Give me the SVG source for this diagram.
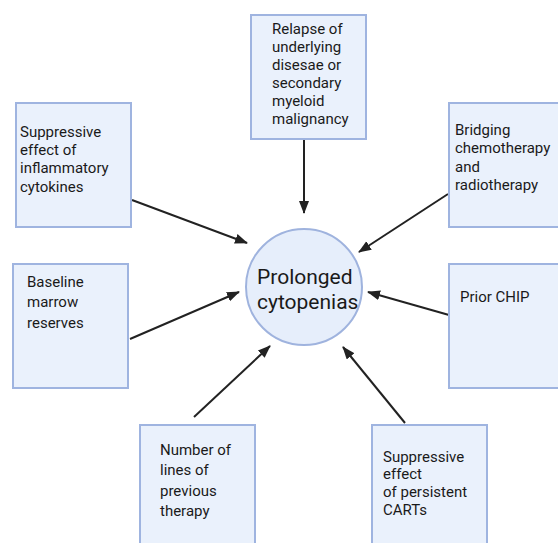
<svg xmlns="http://www.w3.org/2000/svg" width="558" height="543" viewBox="0 0 558 543">
<style>
.box{fill:#eaf1fc;stroke:#9fb4e0;stroke-width:2}
.t{font-family:Roboto,"Liberation Sans",sans-serif;font-size:15px;fill:#1a1a1a}
.c{font-family:Roboto,"Liberation Sans",sans-serif;font-size:21px;fill:#1a1a1a}
.ln{stroke:#222;stroke-width:2;fill:none;marker-end:url(#ah)}
</style>
<defs>
<marker id="ah" markerUnits="userSpaceOnUse" markerWidth="14" markerHeight="12" refX="12" refY="5" orient="auto">
<path d="M0,0 L13,5 L0,10 Z" fill="#222"/>
</marker>
</defs>
<rect width="558" height="543" fill="#fff"/>
<g id="connectors">
<line class="ln" x1="304" y1="140" x2="304" y2="213"/>
<line class="ln" x1="132" y1="200" x2="247" y2="243"/>
<line class="ln" x1="448" y1="194" x2="359" y2="252"/>
<line class="ln" x1="130" y1="339" x2="239" y2="292"/>
<line class="ln" x1="449" y1="315" x2="368" y2="292"/>
<line class="ln" x1="194" y1="417" x2="270" y2="346"/>
<line class="ln" x1="405" y1="423" x2="343" y2="347"/>
</g>
<g id="center">
<circle cx="304" cy="287" r="58" fill="#e6eefb" stroke="#9fb3de" stroke-width="2"/>
<text class="c" x="257" y="284">Prolonged</text>
<text class="c" x="257" y="309">cytopenias</text>
</g>
<g id="relapse">
<rect class="box" x="251" y="15" width="115" height="124"/>
<text class="t" x="272" y="34">Relapse of</text>
<text class="t" x="272" y="52">underlying</text>
<text class="t" x="272" y="70">disesae or</text>
<text class="t" x="272" y="88">secondary</text>
<text class="t" x="272" y="106">myeloid</text>
<text class="t" x="272" y="124">malignancy</text>
</g>
<g id="inflammatory">
<rect class="box" x="16" y="103" width="115" height="124"/>
<text class="t" x="20" y="137">Suppressive</text>
<text class="t" x="20" y="155">effect of</text>
<text class="t" x="20" y="173">inflammatory</text>
<text class="t" x="20" y="192">cytokines</text>
</g>
<g id="bridging">
<rect class="box" x="449" y="103" width="115" height="124"/>
<text class="t" x="455" y="135">Bridging</text>
<text class="t" x="455" y="153">chemotherapy</text>
<text class="t" x="455" y="172">and</text>
<text class="t" x="455" y="190">radiotherapy</text>
</g>
<g id="baseline">
<rect class="box" x="13" y="264" width="115" height="124"/>
<text class="t" x="27" y="287">Baseline</text>
<text class="t" x="27" y="307">marrow</text>
<text class="t" x="27" y="328">reserves</text>
</g>
<g id="chip">
<rect class="box" x="449" y="264" width="115" height="124"/>
<text class="t" x="460" y="302">Prior CHIP</text>
</g>
<g id="lines">
<rect class="box" x="140" y="425" width="115" height="124"/>
<text class="t" x="160" y="455">Number of</text>
<text class="t" x="160" y="475">lines of</text>
<text class="t" x="160" y="496">previous</text>
<text class="t" x="160" y="516">therapy</text>
</g>
<g id="carts">
<rect class="box" x="372" y="425" width="115" height="124"/>
<text class="t" x="383" y="462">Suppressive</text>
<text class="t" x="383" y="479">effect</text>
<text class="t" x="383" y="497">of persistent</text>
<text class="t" x="383" y="515">CARTs</text>
</g>
</svg>
